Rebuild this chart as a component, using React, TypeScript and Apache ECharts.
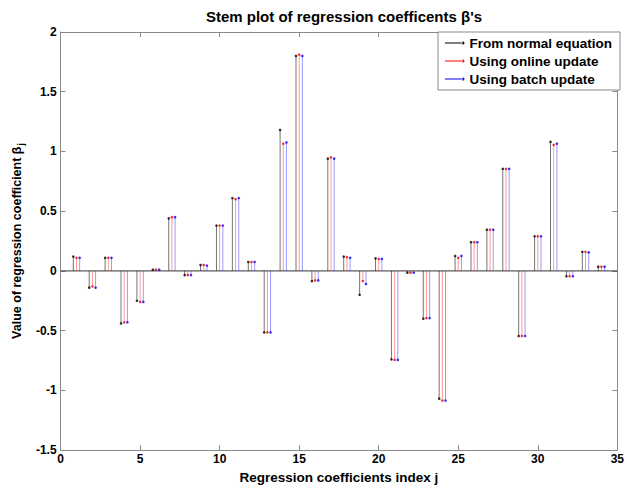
import React, { useEffect, useRef } from "react";
import * as echarts from "echarts";

const indices = [1,2,3,4,5,6,7,8,9,10,11,12,13,14,15,16,17,18,19,20,21,22,23,24,25,26,27,28,29,30,31,32,33,34];

const normalEq = [0.12,-0.14,0.11,-0.44,-0.25,0.01,0.44,-0.035,0.05,0.38,0.61,0.075,-0.515,1.18,1.80,-0.085,0.94,0.12,-0.20,0.105,-0.74,-0.015,-0.40,-1.07,0.125,0.24,0.345,0.855,-0.545,0.29,1.08,-0.045,0.16,0.035];
const onlineUpd = [0.11,-0.13,0.11,-0.43,-0.26,0.01,0.45,-0.035,0.05,0.38,0.60,0.075,-0.515,1.065,1.81,-0.08,0.95,0.115,-0.085,0.10,-0.745,-0.015,-0.395,-1.085,0.11,0.24,0.345,0.855,-0.545,0.29,1.055,-0.045,0.16,0.035];
const batchUpd = [0.11,-0.14,0.11,-0.43,-0.26,0.01,0.45,-0.035,0.045,0.38,0.61,0.075,-0.515,1.075,1.80,-0.08,0.94,0.11,-0.11,0.10,-0.745,-0.015,-0.395,-1.085,0.125,0.24,0.345,0.855,-0.545,0.29,1.065,-0.045,0.155,0.035];

const seriesNames = ["From normal equation", "Using online update", "Using batch update"];
const seriesColors = ["#000000", "#ff0000", "#0000ff"];
const stemOffsets = [-0.2, 0, 0.2];

const xTicks = { min: 0, max: 35, interval: 5 };
const yTicks = { min: -1.5, max: 2, interval: 0.5 };

const FONT = "Liberation Sans, Arial, sans-serif";

export default function App() {
  const ref = useRef<HTMLDivElement>(null);
  useEffect(() => {
    if (!ref.current) return;
    const chart = echarts.init(ref.current, undefined, { renderer: "svg" });
    const values = [normalEq, onlineUpd, batchUpd];
    const stemSeries = values.map((vals, k) => ({
      name: seriesNames[k],
      type: "custom",
      itemStyle: { color: seriesColors[k] },
      data: indices.map((j, i) => [j + stemOffsets[k], vals[i]]),
      encode: { x: 0, y: 1 },
      renderItem: (params: any, api: any) => {
        const x = api.value(0);
        const y = api.value(1);
        const top = api.coord([x, y]);
        const base = api.coord([x, 0]);
        return {
          type: "group",
          children: [
            {
              type: "line",
              shape: { x1: base[0], y1: base[1], x2: top[0], y2: top[1] },
              style: { stroke: seriesColors[k], lineWidth: 1, opacity: k === 0 ? 0.55 : 0.4 },
            },
            {
              type: "circle",
              shape: { cx: top[0], cy: top[1], r: 1.3 },
              style: { fill: seriesColors[k], opacity: 0.8 },
            },
          ],
        };
      },
    }));
    const axisLineStyle = { color: "#8a8a8a", width: 1 };
    const option: any = {
      animation: false,
      backgroundColor: "#ffffff",
      title: {
        text: "Stem plot of regression coefficents β's",
        left: 339,
        textAlign: "center",
        top: 4,
        textStyle: { fontFamily: FONT, fontSize: 15, fontWeight: "bold", color: "#000" },
      },
      legend: {
        orient: "vertical",
        right: 7,
        top: 32,
        data: seriesNames,
        icon: "path://M0,1.5 L18,1.5 L18,2.5 L0,2.5 Z M16.5,2 a1.5,1.5 0 1,0 3,0 a1.5,1.5 0 1,0 -3,0 Z",
        itemWidth: 19.5,
        itemHeight: 3,
        itemGap: 4,
        padding: [4, 8, 4, 7],
        borderColor: "#8a8a8a",
        borderWidth: 1,
        borderRadius: 0,
        backgroundColor: "#ffffff",
        textStyle: { fontFamily: FONT, fontSize: 13.5, fontWeight: "bold", color: "#000" },
      },
      grid: { left: 59, right: 7, top: 32, bottom: 37, containLabel: false },
      xAxis: [
        {
          type: "value",
          min: xTicks.min,
          max: xTicks.max,
          interval: xTicks.interval,
          position: "bottom",
          name: "Regression coefficients index j",
          nameLocation: "middle",
          nameGap: 17,
          nameTextStyle: { fontFamily: FONT, fontSize: 13.5, fontWeight: "bold", color: "#000" },
          axisLine: { onZero: false, lineStyle: axisLineStyle },
          axisTick: { inside: true, length: 5, lineStyle: axisLineStyle },
          axisLabel: { fontFamily: FONT, fontSize: 12, fontWeight: "bold", color: "#000", margin: 3 },
          splitLine: { show: false },
        },
        {
          type: "value",
          min: xTicks.min,
          max: xTicks.max,
          interval: xTicks.interval,
          position: "top",
          axisLine: { onZero: false, lineStyle: axisLineStyle },
          axisTick: { inside: true, length: 5, lineStyle: axisLineStyle },
          axisLabel: { show: false },
          splitLine: { show: false },
        },
      ],
      yAxis: [
        {
          type: "value",
          min: yTicks.min,
          max: yTicks.max,
          interval: yTicks.interval,
          position: "left",
          name: "{a|Value of regression coefficient β}{s|j}",
          nameLocation: "middle",
          nameGap: 35,
          nameRotate: 90,
          nameTextStyle: {
            fontFamily: FONT,
            fontSize: 12.5,
            fontWeight: "bold",
            color: "#000",
            rich: {
              a: { fontFamily: FONT, fontSize: 12.5, fontWeight: "bold", color: "#000", lineHeight: 16, verticalAlign: "middle" },
              s: { fontFamily: FONT, fontSize: 8.5, fontWeight: "bold", color: "#000", lineHeight: 16, verticalAlign: "bottom", padding: [8, 0, 0, 1] },
            },
          },
          axisLine: { onZero: false, lineStyle: axisLineStyle },
          axisTick: { inside: true, length: 5, lineStyle: axisLineStyle },
          axisLabel: { fontFamily: FONT, fontSize: 12, fontWeight: "bold", color: "#000", margin: 4 },
          splitLine: { show: false },
        },
        {
          type: "value",
          min: yTicks.min,
          max: yTicks.max,
          interval: yTicks.interval,
          position: "right",
          axisLine: { onZero: false, lineStyle: axisLineStyle },
          axisTick: { inside: true, length: 5, lineStyle: axisLineStyle },
          axisLabel: { show: false },
          splitLine: { show: false },
        },
      ],
      series: [
        {
          name: "baseline",
          type: "line",
          silent: true,
          symbol: "none",
          data: [[xTicks.min, 0], [xTicks.max, 0]],
          lineStyle: { color: "#333333", width: 1 },
          z: 1,
        },
        ...stemSeries,
      ],
    };
    chart.setOption(option);
    return () => chart.dispose();
  }, []);
  return (
    <div
      ref={ref}
      style={{ position: "fixed", left: 0, top: 0, width: 627, height: 489, background: "#fff" }}
    />
  );
}
